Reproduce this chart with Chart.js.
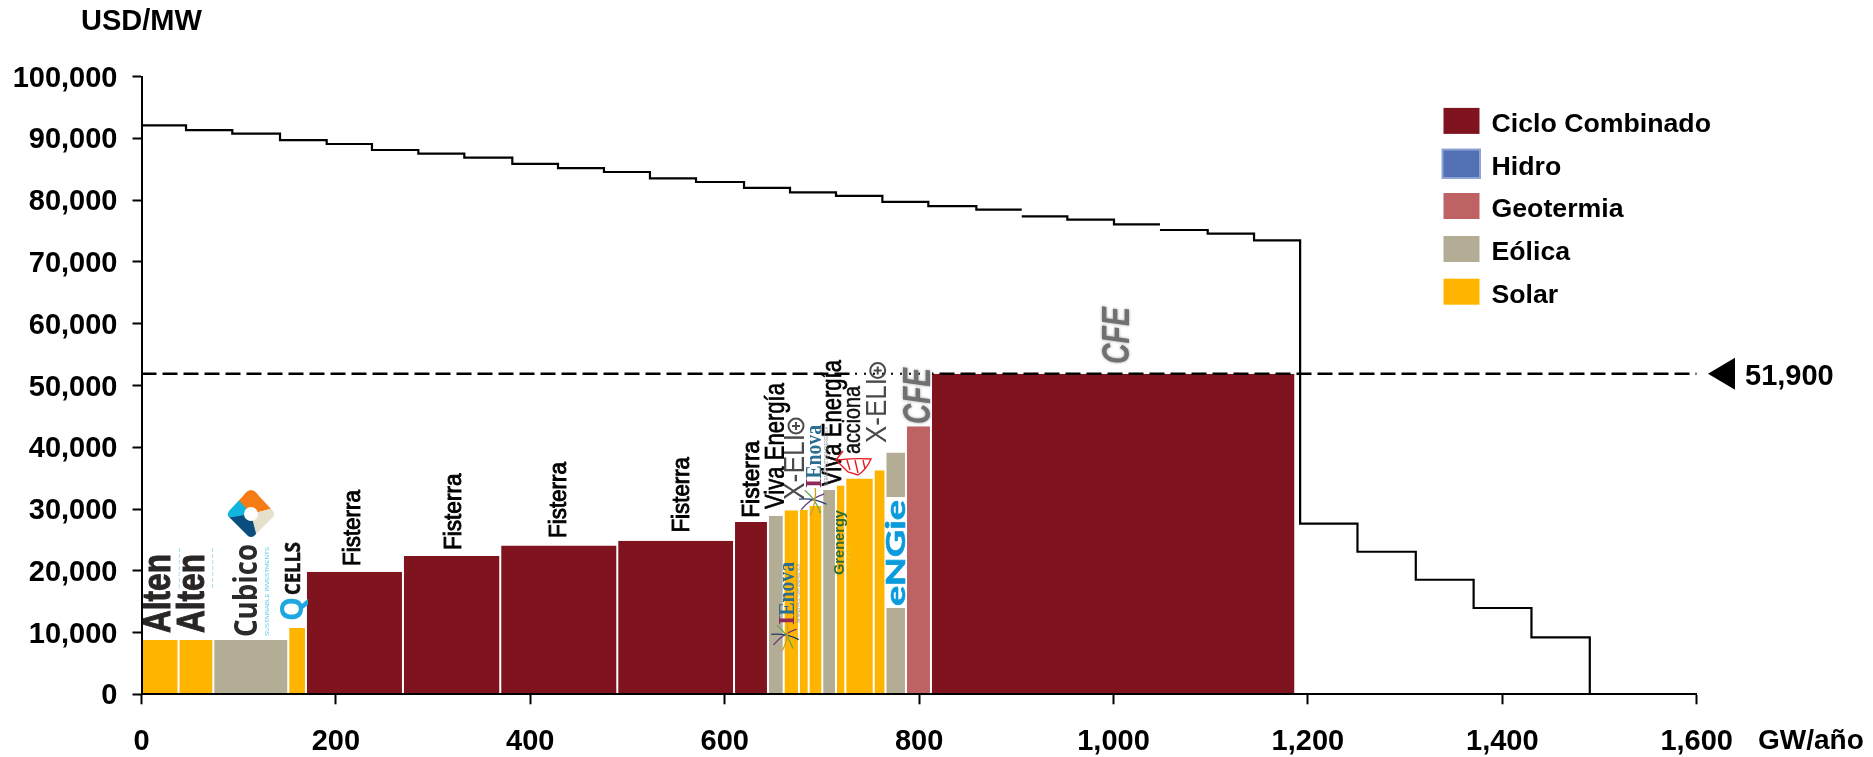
<!DOCTYPE html>
<html><head><meta charset="utf-8">
<script src="https://cdn.jsdelivr.net/npm/chart.js@4/dist/chart.umd.min.js"></script>
<style>html,body{margin:0;padding:0;background:#fff}canvas{display:block}</style></head>
<body><canvas id="c" width="1873" height="757"></canvas>
<script>
// ---------- data ----------
const technologies = ['Ciclo Combinado','Hidro','Geotermia','Eólica','Solar'];
const techColors   = ['#7f141f','#5470b4','#bf6264','#b3ad96','#ffb500'];
const barStarts = [0,38.1,73.9,151,169.2,269,369.1,489.5,609.6,644.5,660.7,676.4,686.4,700.4,714.5,724.1,753.3,765.4,786.5,812.2];
const barEnds   = [38.1,73.9,151,169.2,269,369.1,489.5,609.6,644.5,660.7,676.4,686.4,700.4,714.5,724.1,753.3,765.4,786.5,812.2,1187];
const barValues = [8800,8800,8800,10730,19850,22380,24100,24860,27880,28900,29820,29850,30470,33060,33820,34950,36290,39150,43410,51900];
const barTechs  = ['Solar','Solar','Eólica','Solar','Ciclo Combinado','Ciclo Combinado','Ciclo Combinado','Ciclo Combinado','Ciclo Combinado','Eólica','Solar','Solar','Solar','Eólica','Solar','Solar','Solar','Eólica','Geotermia','Ciclo Combinado'];
const demandStepX  = [0,45.8,93.4,142.5,190.5,237.1,284.8,332.1,381.5,428.5,475.8,523.1,570.5,619.9,667.2,714.5,762.2,809.5,858.9,905.6,952.5,1000.5,1047.8,1096.9,1144.6,1192,1251,1311,1370.5,1430,1490];
const demandLevels = [92120,91360,90770,89740,89100,88130,87540,86890,85900,85210,84570,83540,82950,81990,81280,80690,79720,79060,78480,77400,76860,76100,75180,74590,73510,27650,23080,18550,13970,9220,0];
const demandBreaksX = [905.6,1047.8];
const clearingPrice = 51900;
const axisMaxX = 1600, axisMaxY = 100000, stepXTick = 200, stepYTick = 10000;
const yTitle = 'USD/MW', xTitle = 'GW/año';

// ---------- variable-width bars on a linear x scale ----------
const origPix = Chart.BarController.prototype._calculateBarIndexPixels;
Chart.BarController.prototype._calculateBarIndexPixels = function(i, ruler, opts){
  const d = this.getDataset().data[i];
  if (d && d.x0 !== undefined) {
    const s = this._cachedMeta.iScale, a = s.getPixelForValue(d.x0), b = s.getPixelForValue(d.x1);
    return {base:a, head:b, center:(a+b)/2, size:b-a};
  }
  return origPix.call(this, i, ruler, opts);
};

const barDatasets = technologies.map((t,k)=>({
  type:'bar', label:t, order:2, backgroundColor:techColors[k],
  borderColor:'#ffffff', borderWidth:{left:1,right:1,top:0,bottom:0}, borderSkipped:false,
  data: barValues.map((v,i)=>({x:(barStarts[i]+barEnds[i])/2,y:v,x0:barStarts[i],x1:barEnds[i],t:barTechs[i]})).filter(p=>p.t===t)
}));

const demandPts = [];
demandStepX.forEach((x,i)=>{
  if (demandBreaksX.includes(x)) {
    demandPts.push({x,y:demandLevels[i-1]}); demandPts.push({x,y:null});
  }
  demandPts.push({x,y:demandLevels[i]});
});
const demandDs = {type:'line',label:'Demanda',order:0,data:demandPts,stepped:'before',borderColor:'#000',borderWidth:2.2,pointRadius:0,fill:false,spanGaps:false};
const priceDs  = {type:'line',label:'Precio',order:1,data:[{x:0,y:clearingPrice},{x:axisMaxX,y:clearingPrice}],borderColor:'#000',borderWidth:2.4,borderDash:[15,6],pointRadius:0,fill:false};

const FONT = '"Liberation Sans", Arial, sans-serif';

function vText(ctx,text,cx,bottom,top,font,color,extra){
  ctx.save();
  ctx.translate(cx,bottom); ctx.rotate(-Math.PI/2);
  ctx.font=font; ctx.textAlign='left'; ctx.textBaseline='middle';
  const w=ctx.measureText(text).width, k=(bottom-top)/w;
  ctx.scale(k,1);
  if(extra&&extra.shadow){ctx.shadowColor=extra.shadow;ctx.shadowBlur=3;}
  ctx.fillStyle=color; ctx.fillText(text,0,0);
  if(extra&&extra.stroke){ctx.strokeStyle=color;ctx.lineWidth=extra.stroke;ctx.strokeText(text,0,0);}
  ctx.restore();
}
function xelio(ctx,cx,bottom,top,cy){
  vText(ctx,'X-ELI',cx,bottom,top,'29px '+FONT,'#4a4a4a');
  ctx.save();ctx.strokeStyle='#4a4a4a';ctx.lineWidth=2;
  ctx.beginPath();ctx.arc(cx,cy,7.5,0,Math.PI*2);ctx.stroke();
  ctx.beginPath();ctx.moveTo(cx-4,cy);ctx.lineTo(cx+4,cy);ctx.moveTo(cx,cy-4);ctx.lineTo(cx,cy+4);ctx.stroke();
  ctx.restore();
}
function swoosh(ctx,x,y){
  const cols=['#6d3a7d','#1f3d6b','#6aa84f','#c9a227'];
  ctx.save();ctx.lineWidth=1.3;
  cols.forEach((c,i)=>{
    ctx.strokeStyle=c;ctx.beginPath();
    const a=i*Math.PI/4-0.6;
    ctx.moveTo(x-14*Math.cos(a),y-14*Math.sin(a));
    ctx.quadraticCurveTo(x+4*Math.sin(a),y-4*Math.cos(a),x+14*Math.cos(a),y+14*Math.sin(a));
    ctx.stroke();
  });
  ctx.restore();
}
function enova(ctx,cx,bottom,top,tagX){
  const f='bold 23px "Liberation Serif", serif';
  ctx.save();
  const split=bottom-(bottom-top)*0.15;
  vText(ctx,'I',cx,bottom,split,f,'#8c2a5c');
  vText(ctx,'Enova',cx,split,top,f,'#2b6c8f');
  vText(ctx,'INFRAESTRUCTURA ENERGÉTICA',tagX,bottom-2,top+2,'5px '+FONT,'#8a8f94');
  ctx.restore();
}
function cubicoIcon(ctx,x,y){
  const r=24;
  ctx.save();
  ctx.translate(x,y);
  ctx.beginPath();
  ctx.moveTo(0,-r);ctx.quadraticCurveTo(4,-r,8,-r+6);ctx.lineTo(r-2,-3);ctx.quadraticCurveTo(r,0,r-2,3);
  ctx.lineTo(3,r-2);ctx.quadraticCurveTo(0,r,-3,r-2);ctx.lineTo(-r+2,3);ctx.quadraticCurveTo(-r,0,-r+2,-3);
  ctx.lineTo(-8,-r+6);ctx.quadraticCurveTo(-4,-r,0,-r);ctx.closePath();ctx.clip();
  [['#f57c14',-Math.PI*0.75,-Math.PI*0.08],['#e6dfcb',-Math.PI*0.08,Math.PI*0.5],['#0a4e7e',Math.PI*0.42,Math.PI*1.0],['#11b5df',Math.PI*0.95,Math.PI*1.27]].forEach(s=>{
    ctx.fillStyle=s[0];ctx.beginPath();ctx.moveTo(0,0);ctx.arc(0,0,r+4,s[1],s[2]);ctx.closePath();ctx.fill();
  });
  ctx.fillStyle='#fff';ctx.beginPath();ctx.arc(0,0,7,0,Math.PI*2);ctx.fill();
  ctx.restore();
}

const labelsPlugin = {
  id:'labels',
  afterDatasetsDraw(chart){
    const ctx=chart.ctx, ys=chart.scales.y;
    ctx.save();
    // axis titles
    ctx.fillStyle='#000';ctx.font='bold 29px '+FONT;ctx.textBaseline='middle';ctx.textAlign='left';
    ctx.fillText(yTitle,81,22);
    ctx.font='bold 28px '+FONT;
    ctx.fillText(xTitle,1758,741);
    // clearing price marker
    const py=ys.getPixelForValue(clearingPrice);
    ctx.beginPath();ctx.moveTo(1708,py);ctx.lineTo(1735,py-16);ctx.lineTo(1735,py+16);ctx.closePath();ctx.fill();
    ctx.font='bold 29px '+FONT;
    ctx.fillText(clearingPrice.toLocaleString('en-US'),1745,py+3);
    // legend
    const ly=[120.9,163.7,206,249,291.7];
    technologies.forEach((t,i)=>{
      if(t==='Hidro'){ctx.fillStyle='#8ea3d6';ctx.fillRect(1441.5,148.5,39.5,30.5);ctx.fillStyle=techColors[i];ctx.fillRect(1443.5,150.5,35.5,26.5);}
      else{ctx.fillStyle=techColors[i];ctx.fillRect(1443.5,ly[i]-13,36,26);}
      ctx.fillStyle='#000';ctx.font='bold 26.7px '+FONT;ctx.fillText(t,1491.5,ly[i]+4);
    });
    // company labels / logos (rotated)
    const A='bold 38px '+FONT;
    vText(ctx,'Alten',160,633,554,A,'#2a2626',{stroke:1});
    vText(ctx,'Alten',194,633,554,A,'#2a2626',{stroke:1});
    ctx.strokeStyle='#a9dff2';ctx.lineWidth=1;ctx.setLineDash([4,2]);
    [179.3,212.7].forEach(x=>{ctx.beginPath();ctx.moveTo(x,548);ctx.lineTo(x,589);ctx.stroke();});
    ctx.setLineDash([]);
    vText(ctx,'Cubico',248,637,544,'bold 32px "Open Sans", '+FONT,'#2b2b2b');
    vText(ctx,'SUSTAINABLE INVESTMENTS',267,636,547,'6px '+FONT,'#5fcbe8');
    cubicoIcon(ctx,251,514);
    vText(ctx,'CELLS',294,595,542,'bold 22px "Open Sans", '+FONT,'#111',{stroke:0.6});
    vText(ctx,'Q',294,621,597,'bold 32px "Open Sans", '+FONT,'#1ea7e0');
    const fis=[[353.5,566,490],[455,550,473.5],[560,538,462],[682.5,532.5,457],[752.7,517.7,441]];
    fis.forEach(f=>vText(ctx,'Fisterra',f[0],f[1],f[2],'23px '+FONT,'#000',{stroke:0.9}));
    vText(ctx,'Viva Energía',776.7,509,383,'27px '+FONT,'#000',{stroke:0.7});
    vText(ctx,'Viva Energía',833.5,486,360,'27px '+FONT,'#000',{stroke:0.7});
    // white logo backgrounds
    ctx.fillStyle='#fff';
    ctx.fillRect(784,414,22,90);
    ctx.fillRect(855,372,77,4);
    ctx.fillRect(866,362,22,84);
    ctx.fillRect(907,365,25,60);
    ctx.strokeStyle='#000';ctx.lineWidth=2;ctx.setLineDash([2,7]);
    ctx.beginPath();ctx.moveTo(855,py);ctx.lineTo(932,py);ctx.stroke();ctx.setLineDash([]);
    xelio(ctx,796,500,434,426);
    xelio(ctx,877.7,443,378,370.5);
    enova(ctx,815,488,425,827);
    swoosh(ctx,812.7,501.7);
    enova(ctx,788,625,562,799);
    swoosh(ctx,785,637);
    vText(ctx,'acciona',854,454,386,'23px '+FONT,'#111',{stroke:0.5});
    // red acciona leaf
    ctx.strokeStyle='#e81c24';ctx.lineWidth=1.4;
    ctx.beginPath();ctx.moveTo(843,451);ctx.lineTo(836,460);ctx.lineTo(842,466);ctx.lineTo(848,472);ctx.lineTo(858,475);
    ctx.quadraticCurveTo(866,470,871,459);ctx.quadraticCurveTo(855,458,838,460);
    ctx.moveTo(847,460);ctx.lineTo(850,470);ctx.moveTo(855,460);ctx.lineTo(858,473);ctx.moveTo(863,460);ctx.lineTo(865,469);ctx.stroke();
    vText(ctx,'Grenergy',840,575,510,'bold 14px '+FONT,'#2f6b2f');
    ctx.strokeStyle='#c6dc3c';ctx.lineWidth=1;ctx.setLineDash([1.5,3]);
    ctx.beginPath();ctx.moveTo(849,543);ctx.lineTo(849,573);ctx.stroke();ctx.setLineDash([]);
    // ENGIE
    ctx.fillStyle='#fff';ctx.fillRect(886,497,21,111);
    vText(ctx,'eNGie',896.5,606,500,'bold 27px Lato, '+FONT,'#0a9bdc',{stroke:0.6});
    // CFE
    vText(ctx,'CFE',920,424,368,'italic bold 38px '+FONT,'#707070',{shadow:'#999'});
    vText(ctx,'CFE',1119,364,307,'italic bold 38px '+FONT,'#707070',{shadow:'#999'});
    ctx.restore();
  }
};

new Chart(document.getElementById('c'),{
  type:'bar',
  data:{datasets:[...barDatasets,demandDs,priceDs]},
  plugins:[labelsPlugin],
  options:{
    responsive:false,animation:false,devicePixelRatio:1,
    layout:{padding:{top:76.7,right:176.3,left:0,bottom:0}},
    plugins:{legend:{display:false},tooltip:{enabled:false},title:{display:false}},
    scales:{
      x:{type:'linear',min:0,max:axisMaxX,offset:false,
        afterFit(s){s.height=62.7;},
        border:{color:'#000',width:2,z:1},
        grid:{drawOnChartArea:false,drawTicks:true,tickLength:10,tickColor:'#000',tickWidth:2,offset:false,z:1},
        ticks:{stepSize:stepXTick,autoSkip:false,maxRotation:0,color:'#000',padding:20,z:1,
          font:{family:'"Liberation Sans"',weight:'bold',size:29},
          callback:v=>v.toLocaleString('en-US')}},
      y:{type:'linear',min:0,max:axisMaxY,
        afterFit(s){s.width=141.5;},
        border:{color:'#000',width:2,z:1},
        grid:{drawOnChartArea:false,drawTicks:true,tickLength:9,tickColor:'#000',tickWidth:2,z:1},
        ticks:{stepSize:stepYTick,color:'#000',padding:15,z:1,labelOffset:2,
          font:{family:'"Liberation Sans"',weight:'bold',size:29},
          callback:v=>v.toLocaleString('en-US')}}
    }
  }
});
</script></body></html>
